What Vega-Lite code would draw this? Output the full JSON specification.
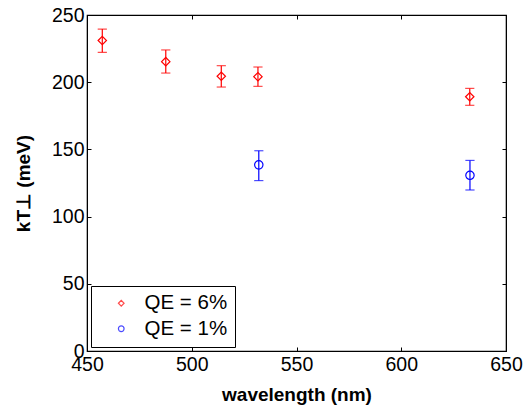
{
  "$schema": "https://vega.github.io/schema/vega-lite/v6.json",
  "width": 419,
  "height": 336,
  "autosize": {"type": "none"},
  "padding": {"left": 87, "top": 15, "right": 19, "bottom": 60},
  "background": "white",
  "config": {
    "font": "Liberation Sans",
    "view": {"stroke": "black", "strokeWidth": 1.2},
    "axis": {"grid": false, "domainColor": "black", "tickColor": "black", "labelColor": "black", "titleColor": "black", "labelFontSize": 19.5, "titleFontSize": 19, "titleFontWeight": "bold", "labelFont": "Liberation Sans", "titleFont": "Liberation Sans"},
    "legend": {"title": null, "orient": "bottom-left", "offset": 4, "strokeColor": "black", "padding": 7, "symbolOffset": 13, "labelFontSize": 20.5, "labelFont": "Liberation Sans", "labelColor": "black", "rowPadding": 4.5, "symbolSize": 32, "symbolStrokeWidth": 1.2, "labelOffset": 13, "fillColor": "white", "cornerRadius": 0, "symbolFillColor": "transparent"}
  },
  "data": {"values": [
    {"wavelength": 457.3, "kT": 231, "lo": 222.2, "hi": 239.5, "series": "QE = 6%"},
    {"wavelength": 487.6, "kT": 215.3, "lo": 206.8, "hi": 224, "series": "QE = 6%"},
    {"wavelength": 514.1, "kT": 204.4, "lo": 196.4, "hi": 212.3, "series": "QE = 6%"},
    {"wavelength": 531.6, "kT": 204.1, "lo": 196.9, "hi": 211.3, "series": "QE = 6%"},
    {"wavelength": 632.7, "kT": 189.2, "lo": 182.8, "hi": 195.4, "series": "QE = 6%"},
    {"wavelength": 532, "kT": 138.5, "lo": 126.8, "hi": 149, "series": "QE = 1%"},
    {"wavelength": 632.8, "kT": 130.7, "lo": 119.8, "hi": 141.8, "series": "QE = 1%"}
  ]},
  "resolve": {"axis": {"x": "independent", "y": "independent"}},
  "layer": [
    {
      "mark": {"type": "rule", "strokeWidth": 1.2},
      "encoding": {
        "x": {"field": "wavelength", "type": "quantitative", "scale": {"domain": [450, 650], "nice": false}, "axis": {"orient": "bottom", "values": [450, 500, 550, 600, 650], "tickSize": -4, "labelPadding": 8, "title": "wavelength (nm)", "titlePadding": 12, "labelFlush": false}},
        "y": {"field": "lo", "type": "quantitative", "scale": {"domain": [0, 250], "nice": false}, "axis": {"orient": "left", "values": [0, 50, 100, 150, 200, 250], "tickSize": -4, "labelPadding": 7, "title": "kT\u22a5 (meV)", "titlePadding": 18, "labelFlush": false}},
        "y2": {"field": "hi"},
        "stroke": {"field": "series", "type": "nominal", "scale": {"domain": ["QE = 6%", "QE = 1%"], "range": ["#ff0000", "#0000ff"]}}
      }
    },
    {
      "mark": {"type": "tick", "orient": "horizontal", "size": 8, "thickness": 0.01, "filled": false, "strokeWidth": 1.2},
      "encoding": {
        "x": {"field": "wavelength", "type": "quantitative", "scale": {"domain": [450, 650], "nice": false}, "axis": {"orient": "top", "values": [450, 500, 550, 600, 650], "tickSize": -4, "labels": false, "title": null}},
        "y": {"field": "lo", "type": "quantitative", "scale": {"domain": [0, 250], "nice": false}, "axis": {"orient": "right", "values": [0, 50, 100, 150, 200, 250], "tickSize": -4, "labels": false, "title": null}},
        "stroke": {"field": "series", "type": "nominal"}
      }
    },
    {
      "mark": {"type": "tick", "orient": "horizontal", "size": 8, "thickness": 0.01, "filled": false, "strokeWidth": 1.2},
      "encoding": {
        "x": {"field": "wavelength", "type": "quantitative", "axis": null},
        "y": {"field": "hi", "type": "quantitative", "axis": null},
        "stroke": {"field": "series", "type": "nominal"}
      }
    },
    {
      "mark": {"type": "point", "filled": false, "strokeWidth": 1.2, "size": 70, "opacity": 1},
      "encoding": {
        "x": {"field": "wavelength", "type": "quantitative", "axis": null},
        "y": {"field": "kT", "type": "quantitative", "axis": null},
        "stroke": {"field": "series", "type": "nominal"},
        "shape": {"field": "series", "type": "nominal", "scale": {"domain": ["QE = 6%", "QE = 1%"], "range": ["diamond", "circle"]}}
      }
    }
  ]
}
